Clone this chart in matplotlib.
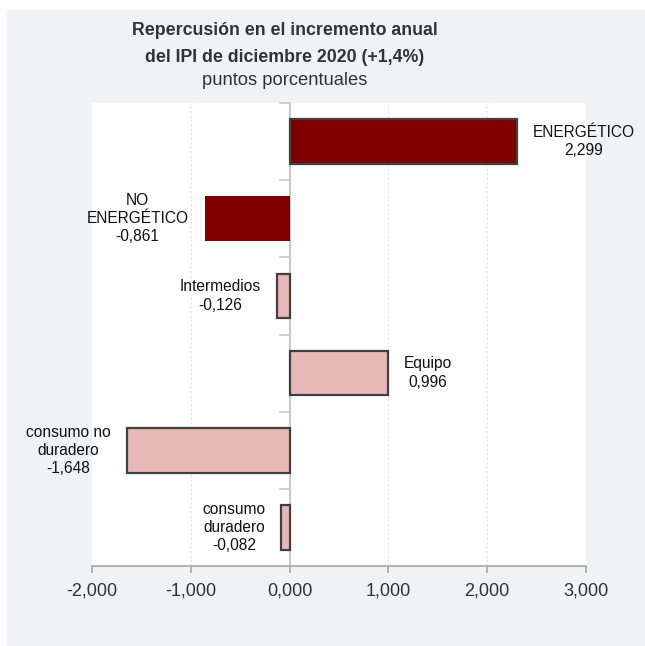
import matplotlib
matplotlib.use("Agg")
import matplotlib.pyplot as plt
from matplotlib.patches import Rectangle
from matplotlib.ticker import FixedLocator, FuncFormatter

plt.rcParams['font.family'] = ['Liberation Sans', 'DejaVu Sans']

categories = ["ENERGÉTICO", "NO\nENERGÉTICO", "Intermedios", "Equipo",
              "consumo no\nduradero", "consumo\nduradero"]
values = [2.299, -0.861, -0.126, 0.996, -1.648, -0.082]
colors = ["#800000", "#800000", "#e6b9b8", "#e6b9b8", "#e6b9b8", "#e6b9b8"]
edges = ["#404040", "none", "#404040", "#404040", "#404040", "#404040"]
xticks = [-2, -1, 0, 1, 2, 3]

W, H = 645, 646
fig = plt.figure(figsize=(W / 100, H / 100), dpi=100)
fig.patch.set_facecolor("white")
fig.patches.append(Rectangle((7 / W, 0), 1, 1 - 10 / H, transform=fig.transFigure,
                             facecolor="#f1f2f6", edgecolor="none", zorder=-10))

ax = fig.add_axes([92 / W, 1 - 566 / H, (586 - 92) / W, (566 - 103) / H])
ax.set_facecolor("white")

n = len(categories)
ypos = list(range(n))
for y, v, c, e in zip(ypos, values, colors, edges):
    ax.barh(y, v, height=0.58, color=c, edgecolor=e,
            linewidth=1.6 if e != "none" else 0, zorder=3)

ax.set_xlim(-2, 3)
ax.set_ylim(n - 0.5, -0.5)

# grid
for xt in xticks:
    if xt not in (0, -2, 3):
        ax.axvline(xt, color="#e4e4e4", lw=0.8, ls=(0, (2, 2)), zorder=1)
ax.axvline(0, color="#bfbfbf", lw=1.2, zorder=2)

# category boundary ticks left of zero
for k in range(n):
    ax.plot([-0.1, 0], [k - 0.5, k - 0.5], color="#c8c8c8", lw=1.2,
            zorder=2, clip_on=False)

for s in ["top", "right", "left"]:
    ax.spines[s].set_visible(False)
ax.spines["bottom"].set_color("#a6a6a6")
ax.spines["bottom"].set_linewidth(1.2)
ax.set_yticks([])
ax.xaxis.set_major_locator(FixedLocator(xticks))
ax.xaxis.set_major_formatter(FuncFormatter(lambda v, p: f"{v:.3f}".replace(".", ",")))
ax.tick_params(axis="x", colors="#a6a6a6", length=5, width=1.2, pad=7,
               labelsize=13, labelcolor="#333333")

for y, v, lab in zip(ypos, values, categories):
    txt = lab + "\n" + f"{v:.3f}".replace(".", ",")
    if v >= 0:
        ax.annotate(txt, xy=(v, y), xytext=(16, 0), textcoords="offset pixels",
                    ha="left", va="center", multialignment="center",
                    fontsize=11.2, color="#111111", linespacing=1.27)
    else:
        ax.annotate(txt, xy=(v, y), xytext=(-16, 0), textcoords="offset pixels",
                    ha="right", va="center", multialignment="center",
                    fontsize=11.2, color="#111111", linespacing=1.27)

cx = 285 / W
fig.text(cx, 1 - 35 / H, "Repercusión en el incremento anual", ha="center",
         va="baseline", fontsize=12.8, fontweight="bold", color="#333333")
fig.text(cx, 1 - 62 / H, "del IPI de diciembre 2020 (+1,4%)", ha="center",
         va="baseline", fontsize=12.8, fontweight="bold", color="#333333")
fig.text(cx, 1 - 85 / H, "puntos porcentuales", ha="center",
         va="baseline", fontsize=13.2, color="#333333")

fig.savefig("out.png", dpi=100, facecolor=fig.get_facecolor())
